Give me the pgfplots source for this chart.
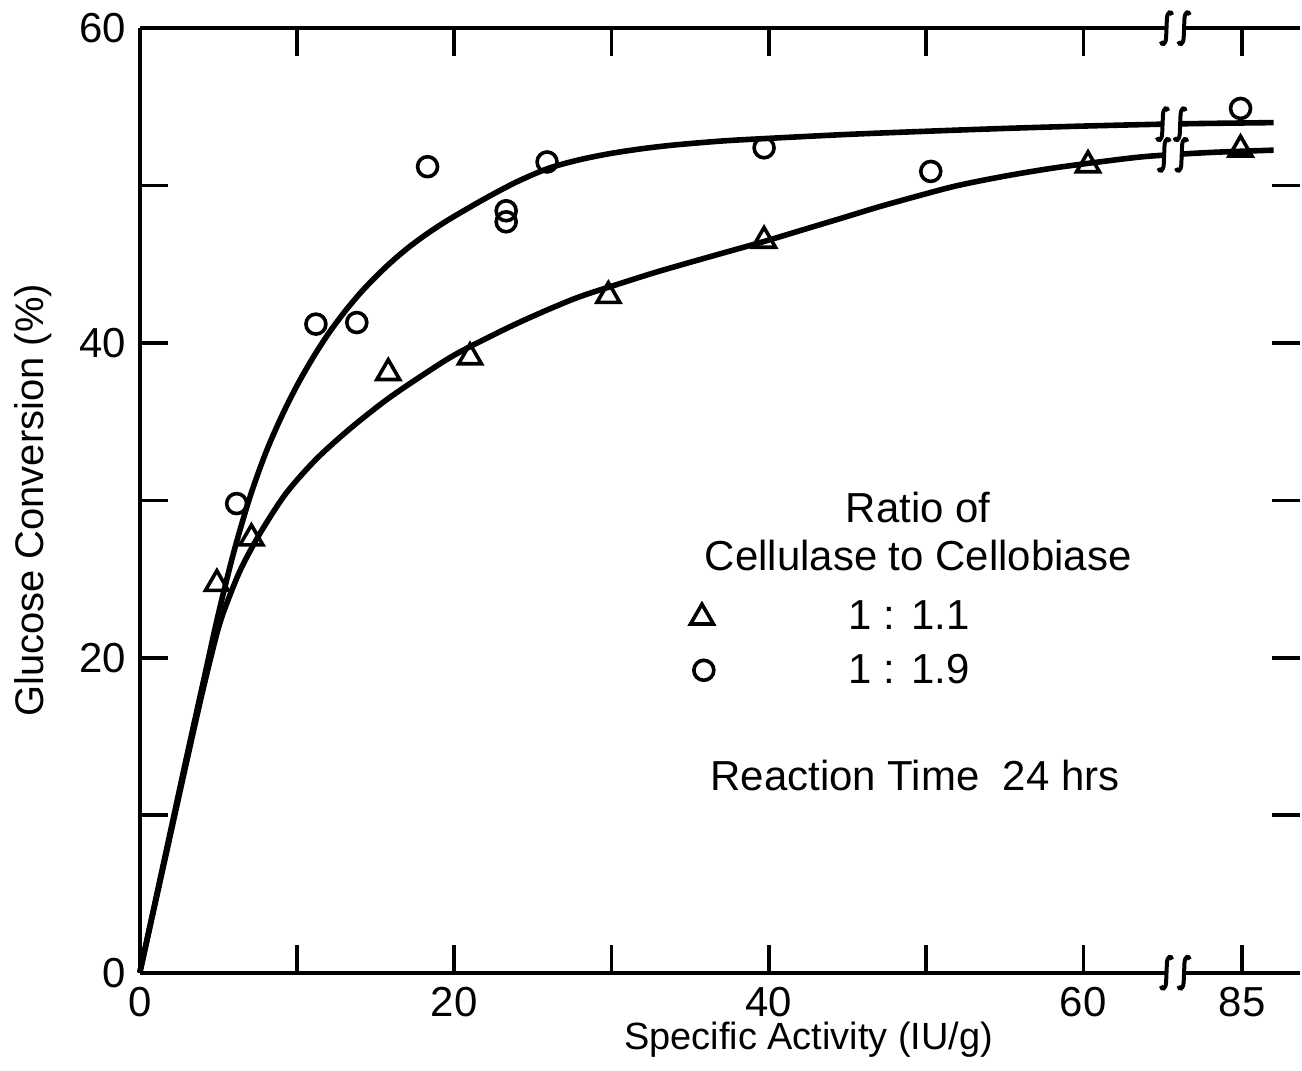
\documentclass[border=0pt]{standalone}
\usepackage{fontspec}
\setmainfont{Liberation Sans}
\usepackage{pgfplots}
\pgfplotsset{compat=1.18}

\newcommand{\intsign}[1]{\draw[line width=1pt,xshift=#1] (1.4pt,3.3pt) .. controls (1.2pt,4.4pt) and (0.2pt,4.2pt) .. (0.1pt,2.4pt) -- (-0.1pt,-2.4pt) .. controls (-0.2pt,-4.2pt) and (-1.2pt,-4.4pt) .. (-1.4pt,-3.3pt);}
\newcommand{\brk}[2]{\begin{scope}[shift={(axis cs:#1,#2)}]\fill[white] (-2.3pt,-1.7pt) rectangle (2.3pt,1.7pt);\intsign{-2.2pt}\intsign{2.2pt}\end{scope}}

\begin{document}
\begin{tikzpicture}
\begin{axis}[
 scale only axis, width=290.5pt, height=236.5pt,
 xmin=0, xmax=73.78, ymin=0, ymax=60,
 clip=false,
 axis line style={draw=none},
 xtick={0,10,20,30,40,50,60,70.1},
 xticklabels={0,,20,,40,,60,85},
 ytick={0,10,20,30,40,50,60},
 yticklabels={0,,20,,40,,60},
 major tick length=7pt,
 tick style={black, line width=0.9pt},
 tick align=inside,
 ticklabel style={font=\fontsize{10.5}{12}\selectfont},
 /pgf/number format/assume math mode=true,
 xlabel={Specific Activity (IU/g)},
 ylabel={Glucose Conversion (\%)},
 xlabel style={at={(axis description cs:0.5766,-0.0712)}, anchor=center, font=\fontsize{9.5}{11}\selectfont},
 ylabel style={at={(axis description cs:-0.092,0.5)}, anchor=center, font=\fontsize{10}{12}\selectfont},
]
% fitted curve, ratio 1:1.9
\addplot[black, line width=1.4pt, smooth] coordinates {
 (0,0) (1,4.6) (2,9.2) (3,13.8) (4,18.3) (5,22.8) (6,26.8) (7,30.2) (8,33.0) (9,35.3)
 (10,37.3) (11,39.05) (12,40.6) (13,41.95) (14,43.15) (15,44.2) (16,45.15) (17,46.0)
 (18,46.75) (19,47.43) (20,48.05) (22,49.2) (24,50.25) (26,51.1) (28,51.65) (30,52.05)
 (32,52.35) (34,52.58) (37,52.83) (40,53.0) (45,53.25) (50,53.45) (55,53.63) (60,53.78)
 (66,53.92) (72.1,54.0)};
% fitted curve, ratio 1:1.1
\addplot[black, line width=1.4pt, smooth] coordinates {
 (0,0) (1,4.5) (2,9.0) (3,13.5) (4,17.9) (5,21.9) (5.7,23.9) (6.5,25.8) (7.7,28.0)
 (9.3,30.45) (11.2,32.6) (13.3,34.5) (15.7,36.4) (18.2,38.1) (20.3,39.4) (24,41.25)
 (27.6,42.8) (30.3,43.7) (33,44.55) (36.5,45.55) (39.7,46.45) (42.2,47.2) (44.7,47.95)
 (47,48.65) (49.7,49.4) (52,50.0) (55,50.6) (58,51.1) (61,51.5) (64,51.85) (68,52.1)
 (72.1,52.25)};
% circles 1:1.9
\addplot[only marks, mark=o, mark size=2.5pt, mark options={line width=0.9pt, black, fill=white}] coordinates {
 (6.16,29.8) (11.2,41.2) (13.8,41.3) (18.3,51.2) (23.3,48.4) (23.3,47.7) (25.9,51.5)
 (39.7,52.4) (50.3,50.9) (70.0,54.9)};
% triangles 1:1.1
\addplot[only marks, mark=triangle, mark size=3.3pt, mark options={line width=0.9pt, black, fill=white}] coordinates {
 (4.9,24.7) (7.1,27.6) (15.8,38.1) (21.0,39.1) (29.8,43.0) (39.7,46.5) (60.3,51.3) (70.0,52.3)};
% legend markers
\addplot[only marks, mark=triangle, mark size=3.3pt, mark options={line width=0.9pt, black, fill=white}] coordinates {(35.75,22.57)};
\addplot[only marks, mark=o, mark size=2.5pt, mark options={line width=0.9pt, black, fill=white}] coordinates {(35.87,19.21)};

% frame (no right spine, as in the scan)
\draw[line width=1pt] (rel axis cs:0,0) -- (rel axis cs:1,0);
\draw[line width=1pt] (rel axis cs:0,1) -- (rel axis cs:1,1);
\draw[line width=1pt] (rel axis cs:0,0) -- (rel axis cs:0,1);

% axis breaks
\brk{65.85}{60}
\brk{65.85}{0}
\brk{65.6}{53.9}
\brk{65.7}{51.95}

% legend text
\node[font=\fontsize{10.5}{12}\selectfont] at (axis cs:49.5,29.55) {Ratio of};
\node[font=\fontsize{10.5}{12}\selectfont] at (axis cs:49.5,26.5) {Cellulase to Cellobiase};
\node[font=\fontsize{10.5}{12}\selectfont, anchor=west] at (axis cs:44.2,22.7) {1 : 1.1};
\node[font=\fontsize{10.5}{12}\selectfont, anchor=west] at (axis cs:44.2,19.3) {1 : 1.9};
\node[font=\fontsize{10.5}{12}\selectfont] at (axis cs:49.3,12.55) {Reaction Time \ 24 hrs};

\path (axis cs:-8.89,-5.58) rectangle (axis cs:73.78,61.71);
\end{axis}
\end{tikzpicture}
\end{document}
